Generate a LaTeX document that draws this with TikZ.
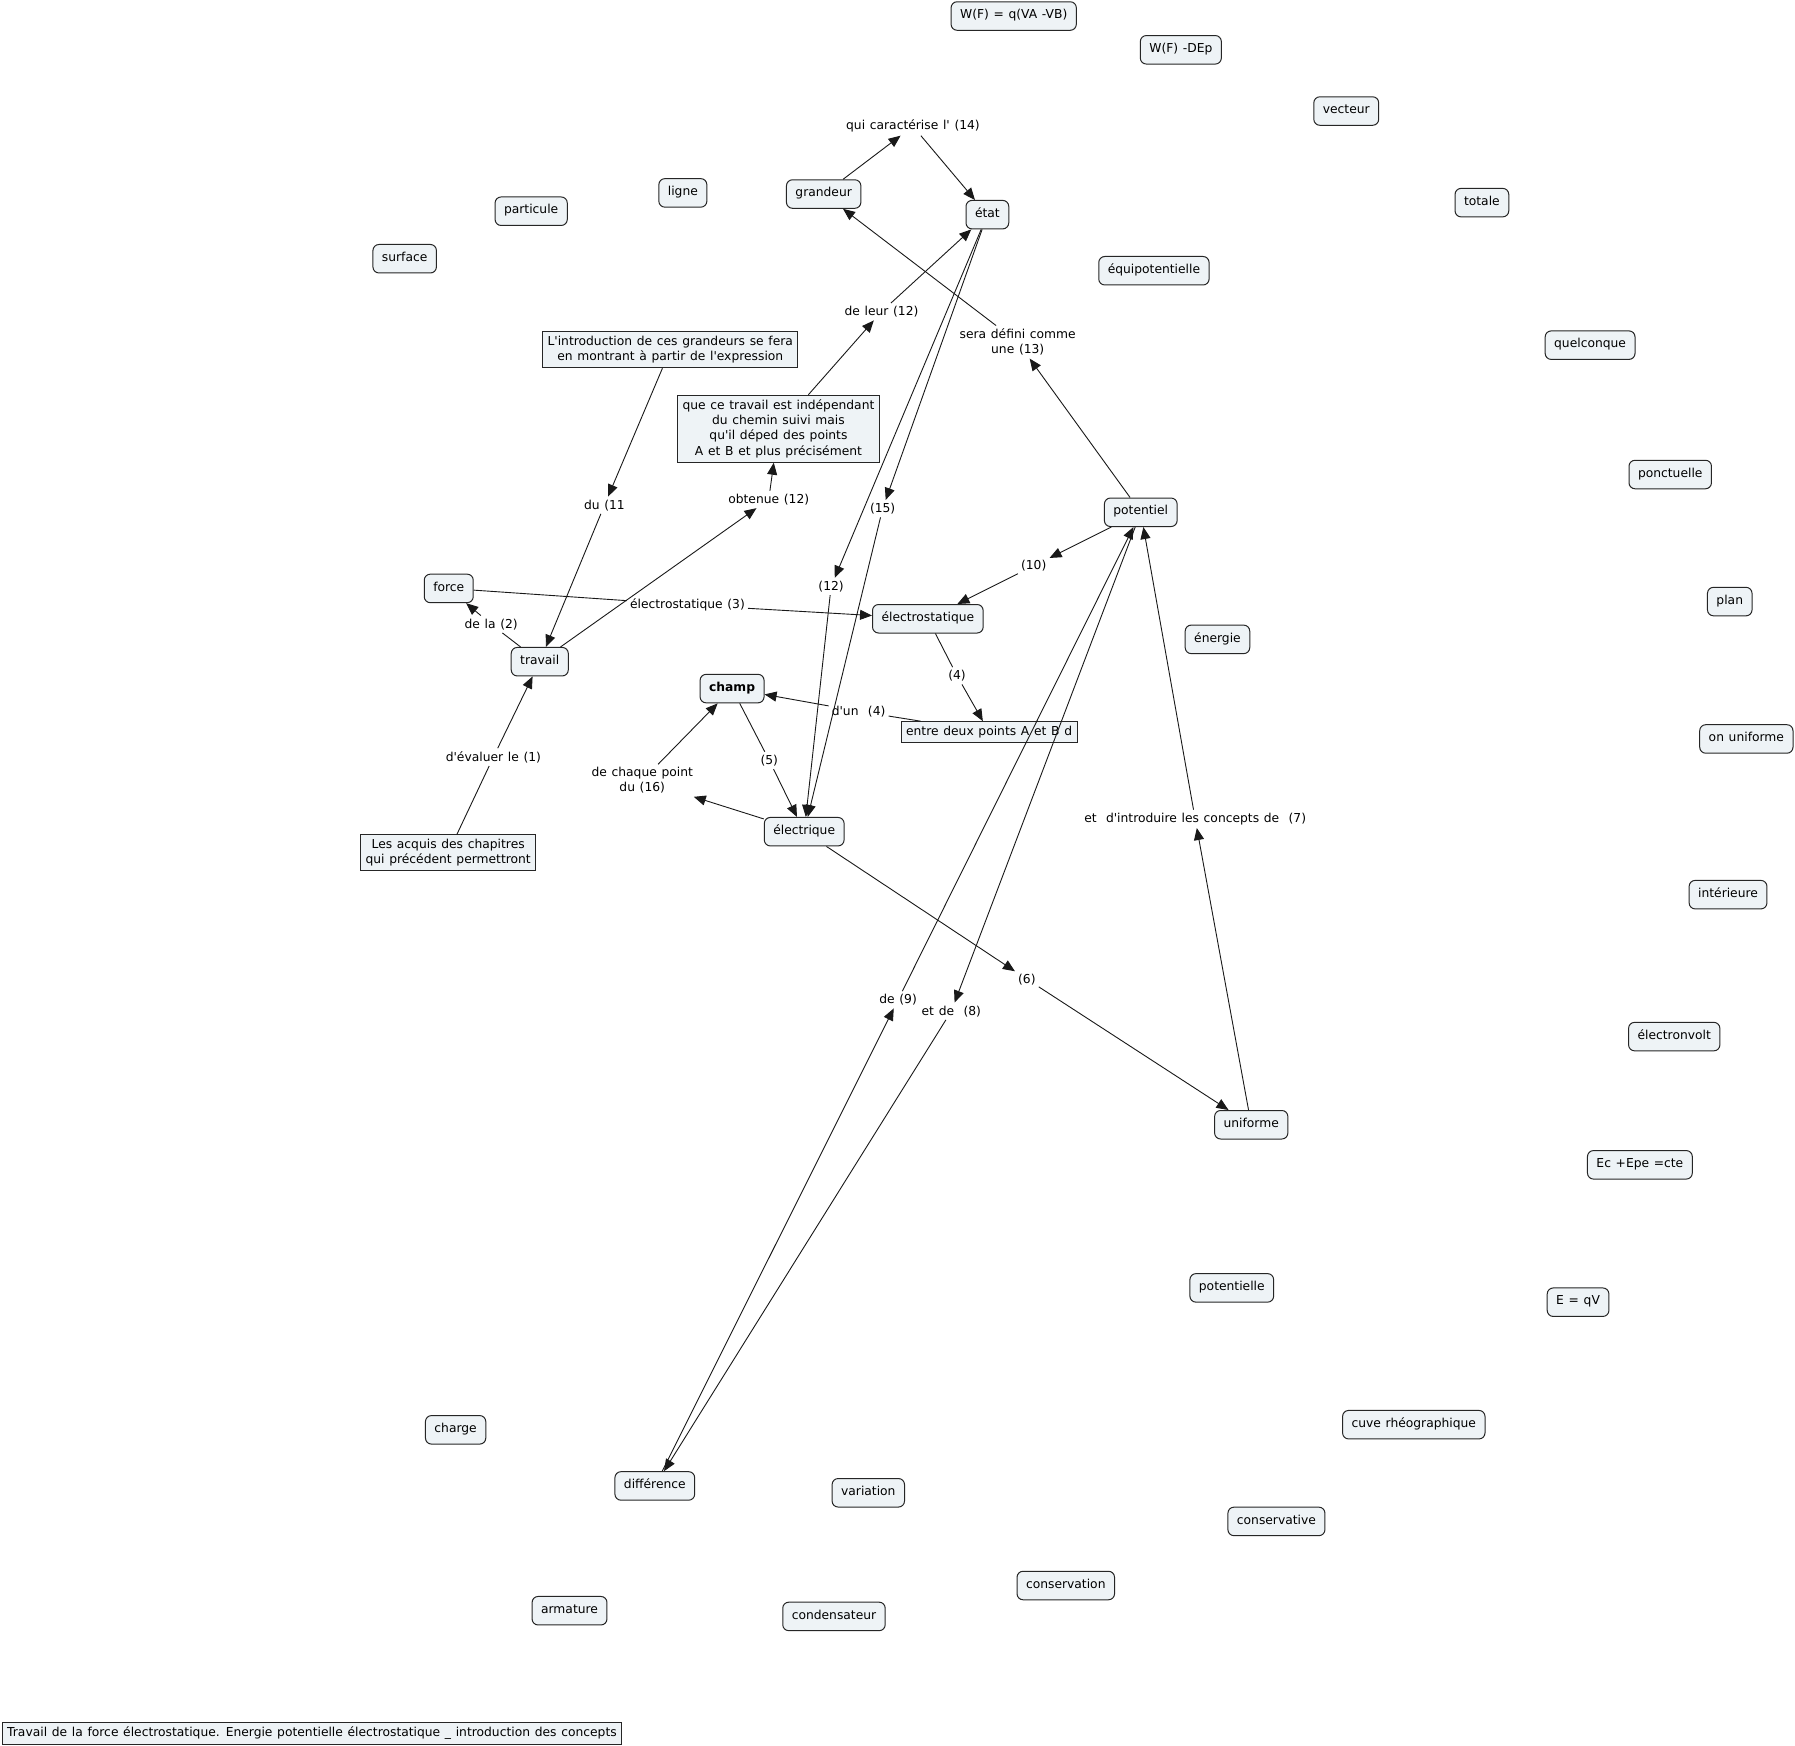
\documentclass[tikz,border=0pt]{standalone}
\usepackage{fontspec}
\setmainfont{DejaVu Sans}[Ligatures=TeXOff, WordSpace=1.2]
\usetikzlibrary{arrows.meta}
\definecolor{cfill}{RGB}{238,243,246}
\begin{document}
\begin{tikzpicture}[x=1.1448pt,y=-1.1448pt,
  font=\fontsize{12.3}{15.2}\selectfont,
  concept/.style={draw=black!85, fill=cfill, rounded corners=6pt, line width=1pt, inner xsep=9pt, inner ysep=0pt, minimum height=28.5pt, text height=8.7pt, text depth=3.3pt},
  rbox/.style={draw=black!85, fill=cfill, line width=1pt, inner xsep=5pt, inner ysep=4.5pt, align=center},
  lbl/.style={inner sep=3pt, align=center, yshift=-1.5pt},
  con/.style={line width=0.9pt, draw=black!90},
  arr/.style={con, -{Triangle[length=12pt,width=10pt]}}
]
\fill[white] (0,0) rectangle (1568,1525);
\path[use as bounding box] (0,0) rectangle (1568,1525);

% concepts
\node[concept] (wf) at (885.5,14) {W(F) = q(VA -VB)};
\node[concept] (wdep) at (1031.5,43.5) {W(F) -DEp};
\node[concept] (vect) at (1176,97) {vecteur};
\node[concept] (tot) at (1294.5,177) {totale};
\node[concept] (equi) at (1008,236.5) {équipotentielle};
\node[concept] (quel) at (1389,301.5) {quelconque};
\node[concept] (ponc) at (1459,414.5) {ponctuelle};
\node[concept] (plan) at (1511,525.5) {plan};
\node[concept] (onu) at (1525.5,645.5) {on uniforme};
\node[concept] (inte) at (1509.5,781.5) {intérieure};
\node[concept] (evolt) at (1462.5,905.5) {électronvolt};
\node[concept] (ecep) at (1432.5,1017.5) {Ec +Epe =cte};
\node[concept] (eqv) at (1378.5,1137.5) {E = qV};
\node[concept] (cuve) at (1235,1244.5) {cuve rhéographique};
\node[concept] (consv) at (1115,1329) {conservative};
\node[concept] (consn) at (931,1385) {conservation};
\node[concept] (potle) at (1076,1125) {potentielle};
\node[concept] (ener) at (1063.5,558.5) {énergie};
\node[concept] (part) at (464,184.5) {particule};
\node[concept] (ligne) at (596.5,168.5) {ligne};
\node[concept] (surf) at (353.5,226) {surface};
\node[concept] (grand) at (719.5,169.5) {grandeur};
\node[concept] (etat) at (862.5,187.5) {état};
\node[concept] (pot) at (996.5,447.5) {potentiel};
\node[concept] (force) at (392,514) {force};
\node[concept] (trav) at (471.5,578) {travail};
\node[concept] (elst) at (810.5,540.5) {électrostatique};
\node[concept,font=\fontsize{12.3}{15.2}\selectfont\bfseries] (champ) at (639.5,601.5) {champ};
\node[concept] (elec) at (702.5,726.5) {électrique};
\node[concept] (unif) at (1093,982.5) {uniforme};
\node[concept] (charge) at (398,1249) {charge};
\node[concept] (diff) at (572,1298) {différence};
\node[concept] (var) at (758.5,1304) {variation};
\node[concept] (arm) at (497.5,1407) {armature};
\node[concept] (cond) at (728.5,1412) {condensateur};

% rectangular boxes
\node[rbox] (intro) at (585.5,305.5) {L'introduction de ces grandeurs se fera\\en montrant à partir de l'expression};
\node[rbox] (indep) at (680,374.5) {que ce travail est indépendant\\du chemin suivi mais\\qu'il déped des points\\A et B et plus précisément};
\node[rbox] (entre) at (864,639.5) {entre deux points A et B d};
\node[rbox] (acquis) at (391.5,745) {Les acquis des chapitres\\qui précédent permettront};
\node[rbox] (title) at (272.5,1514) {Travail de la force électrostatique. Energie potentielle électrostatique \_ introduction des concepts};

% linking phrases
\node[lbl] (l14) at (797.5,109) {qui caractérise l' (14)};
\node[lbl] (l12b) at (770,271) {de leur (12)};
\node[lbl] (l13) at (889,297.5) {sera défini comme\\une (13)};
\node[lbl] (l11) at (528,440) {du (11};
\node[lbl] (l12a) at (671.5,435) {obtenue (12)};
\node[lbl] (l15) at (771,443) {(15)};
\node[lbl] (l12c) at (726,511) {(12)};
\node[lbl] (l10) at (903,493) {(10)};
\node[lbl] (l3) at (600.5,527) {électrostatique (3)};
\node[lbl] (l2) at (429,544) {de la (2)};
\node[lbl] (l4a) at (836,589) {(4)};
\node[lbl] (l4b) at (750,620) {d'un~ (4)};
\node[lbl] (l5) at (672,663) {(5)};
\node[lbl] (l16) at (561,680.5) {de chaque point\\du (16)};
\node[lbl] (l1) at (431,660) {d'évaluer le (1)};
\node[lbl] (l7) at (1044,714) {et~ d'introduire les concepts de~ (7)};
\node[lbl] (l6) at (897,854) {(6)};
\node[lbl] (l9) at (784.5,872) {de (9)};
\node[lbl] (l8) at (831,882) {et de~ (8)};

% connections
\draw[con] (acquis) -- (l1);  \draw[arr] (l1) -- (trav);
\draw[con] (trav) -- (l2);    \draw[arr] (l2) -- (force);
\draw[con] (force) -- (l3);   \draw[arr] (l3) -- (elst);
\draw[con] (elst) -- (l4a);   \draw[arr] (l4a) -- (entre);
\draw[con] (entre) -- (l4b);  \draw[arr] (l4b) -- (champ);
\draw[con] (champ) -- (l5);   \draw[arr] (l5) -- (elec);
\draw[arr] (elec) -- (l16);   \draw[arr] (l16) -- (champ);
\draw[arr] (elec) -- (l6);    \draw[arr] (l6) -- (unif);
\draw[arr] (unif) -- (l7);    \draw[arr] (l7) -- (pot);
\draw[arr] (pot) -- (l10);    \draw[arr] (l10) -- (elst);
\draw[arr] (pot) -- (l13);    \draw[arr] (l13) -- (grand);
\draw[arr] (grand) -- (l14);  \draw[arr] (l14) -- (etat);
\draw[arr] (etat) -- (l15);   \draw[arr] (l15) -- (elec);
\draw[arr] (etat) -- (l12c);  \draw[arr] (l12c) -- (elec);
\draw[arr] (trav) -- (l12a);  \draw[arr] (l12a) -- (indep);
\draw[arr] (indep) -- (l12b); \draw[arr] (l12b) -- (etat);
\draw[arr] (intro) -- (l11);  \draw[arr] (l11) -- (trav);
\draw[arr] (diff) -- (l9);    \draw[arr] (l9) -- (pot);
\draw[arr] (pot) -- (l8);     \draw[arr] (l8) -- (diff);
\end{tikzpicture}
\end{document}
